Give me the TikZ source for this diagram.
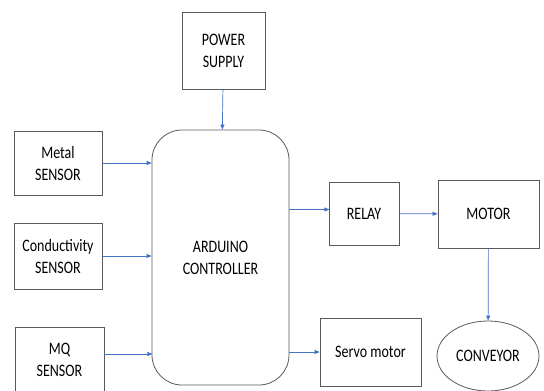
\documentclass[tikz,border=0pt]{standalone}
\usepackage{fontspec}
\setmainfont{Carlito}[FakeStretch=0.8]
\usepackage{tikz}
\usetikzlibrary{arrows.meta,shapes.geometric}

\definecolor{lineblue}{RGB}{68,114,196}
\definecolor{edgegray}{RGB}{90,90,90}
\tikzset{
  block/.style={draw=edgegray,line width=0.8pt,align=center,inner sep=0pt,
    font=\fontsize{17.5}{22}\selectfont},
  feed/.style={draw=lineblue,line width=0.7pt,-{Triangle[length=5pt,width=4pt]}}
}

\begin{document}
\begin{tikzpicture}[x=1pt,y=-1pt]
\useasboundingbox (0,0) rectangle (544,391);
%blocks
\node[block,minimum width=83pt,minimum height=77pt] (power) at (223.5,50.5) {POWER\\SUPPLY};
\node[block,minimum width=88pt,minimum height=64pt] (metal) at (58,163) {Metal\\SENSOR};
\node[block,minimum width=88pt,minimum height=66pt] (cond) at (58,256) {Conductivity\\SENSOR};
\node[block,minimum width=89pt,minimum height=66pt] (mq) at (59.5,360) {MQ\\SENSOR};
\node[block,rounded corners=30pt,minimum width=137pt,minimum height=255pt] (ard) at (220.5,257.5) {ARDUINO\\CONTROLLER};
\node[block,minimum width=70pt,minimum height=63pt] (relay) at (364,213.5) {RELAY};
\node[block,minimum width=101pt,minimum height=68pt] (motor) at (488.5,214) {MOTOR};
\node[block,minimum width=101pt,minimum height=68pt] (servo) at (370.5,352) {Servo motor};
\node[block,ellipse,minimum width=102pt,minimum height=70pt] (conv) at (488,356) {CONVEYOR};
%arrows
\draw[feed] (power) -- (ard);
\draw[feed] (metal.east) -- (metal.east -| ard.west);
\draw[feed] (cond.east) -- (cond.east -| ard.west);
\draw[feed] (mq.east) ++(0,-6) -- ++(48,0);
\draw[feed] (ard.east |- relay.west) ++(0,-4) -- ++(40,0);
\draw[feed] (relay) -- (motor);
\draw[feed] (ard.east |- servo.west) -- (servo.west);
\draw[feed] (motor) -- (conv);
\end{tikzpicture}
\end{document}
